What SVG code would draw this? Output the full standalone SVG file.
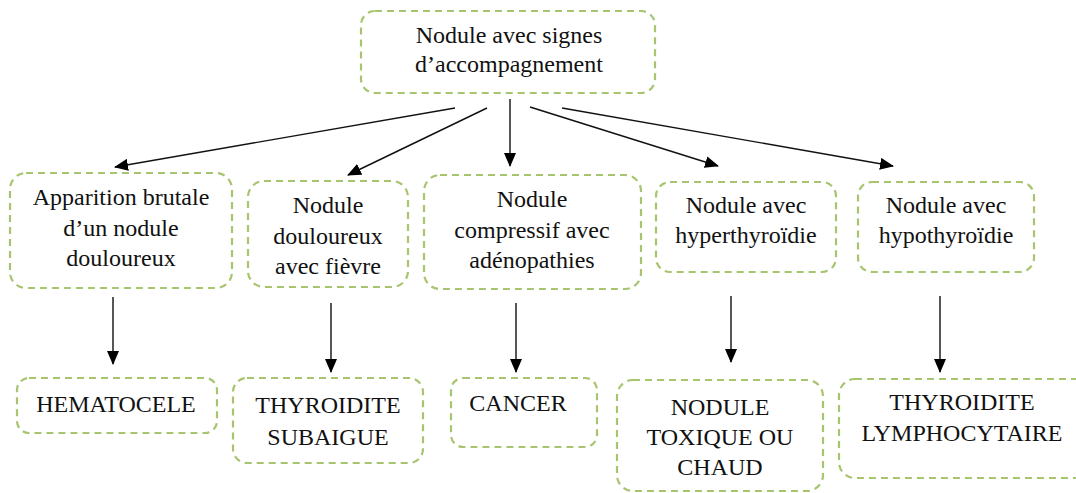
<svg xmlns="http://www.w3.org/2000/svg" width="1076" height="493" viewBox="0 0 1076 493">
<style>
.box{fill:#fff;stroke:#a7c46f;stroke-width:2.2;stroke-dasharray:7 5}
.t{font-family:'Liberation Serif','DejaVu Serif',serif;font-size:24px;fill:#111;text-anchor:middle}
.c{stroke:#111;stroke-width:1.4;fill:none;marker-end:url(#ah)}
</style>
<defs>
<marker id="ah" markerUnits="userSpaceOnUse" markerWidth="14" markerHeight="12" viewBox="0 0 14 12" refX="13" refY="6" orient="auto">
<path d="M0,0 L14,6 L0,12 Z" fill="#000"/>
</marker>
</defs>
<rect width="1076" height="493" fill="#fff"/>
<g id="connectors">
<line class="c" x1="455" y1="108" x2="115" y2="167"/>
<line class="c" x1="487" y1="108" x2="348" y2="175"/>
<line class="c" x1="510" y1="99" x2="510" y2="166"/>
<line class="c" x1="530" y1="107" x2="718" y2="166"/>
<line class="c" x1="562" y1="108" x2="893" y2="166"/>
<line class="c" x1="113" y1="297" x2="113" y2="364"/>
<line class="c" x1="331" y1="303" x2="331" y2="372"/>
<line class="c" x1="516" y1="303" x2="516" y2="372"/>
<line class="c" x1="731" y1="296" x2="731" y2="362"/>
<line class="c" x1="940" y1="296" x2="940" y2="372"/>
</g>
<g id="root">
<rect class="box" x="361" y="11" width="294" height="82" rx="14"/>
<text class="t" x="509" y="43">Nodule avec signes</text>
<text class="t" x="509" y="72">d’accompagnement</text>
</g>
<g id="n-apparition">
<rect class="box" x="10" y="173" width="222" height="115" rx="16"/>
<text class="t" x="121" y="205">Apparition brutale</text>
<text class="t" x="121" y="236">d’un nodule</text>
<text class="t" x="121" y="266">douloureux</text>
</g>
<g id="n-fievre">
<rect class="box" x="248" y="181" width="160" height="106" rx="16"/>
<text class="t" x="328" y="213">Nodule</text>
<text class="t" x="328" y="244">douloureux</text>
<text class="t" x="328" y="274">avec fièvre</text>
</g>
<g id="n-compressif">
<rect class="box" x="424" y="175" width="217" height="114" rx="16"/>
<text class="t" x="532" y="207">Nodule</text>
<text class="t" x="532" y="238">compressif avec</text>
<text class="t" x="532" y="268">adénopathies</text>
</g>
<g id="n-hyper">
<rect class="box" x="656" y="182" width="180" height="90" rx="14"/>
<text class="t" x="746" y="213">Nodule avec</text>
<text class="t" x="746" y="243">hyperthyroïdie</text>
</g>
<g id="n-hypo">
<rect class="box" x="858" y="182" width="176" height="90" rx="14"/>
<text class="t" x="946" y="213">Nodule avec</text>
<text class="t" x="946" y="243">hypothyroïdie</text>
</g>
<g id="r-hematocele">
<rect class="box" x="17" y="378" width="200" height="55" rx="12"/>
<text class="t" x="116" y="412">HEMATOCELE</text>
</g>
<g id="r-subaigue">
<rect class="box" x="233" y="378" width="190" height="85" rx="14"/>
<text class="t" x="328" y="413">THYROIDITE</text>
<text class="t" x="328" y="445">SUBAIGUE</text>
</g>
<g id="r-cancer">
<rect class="box" x="451" y="378" width="146" height="69" rx="12"/>
<text class="t" x="518" y="411">CANCER</text>
</g>
<g id="r-toxique">
<rect class="box" x="617" y="380" width="206" height="111" rx="16"/>
<text class="t" x="720" y="415">NODULE</text>
<text class="t" x="720" y="445">TOXIQUE OU</text>
<text class="t" x="720" y="475">CHAUD</text>
</g>
<g id="r-lympho">
<rect class="box" x="839" y="379" width="260" height="99" rx="16"/>
<text class="t" x="962" y="410">THYROIDITE</text>
<text class="t" x="962" y="441">LYMPHOCYTAIRE</text>
</g>
</svg>
